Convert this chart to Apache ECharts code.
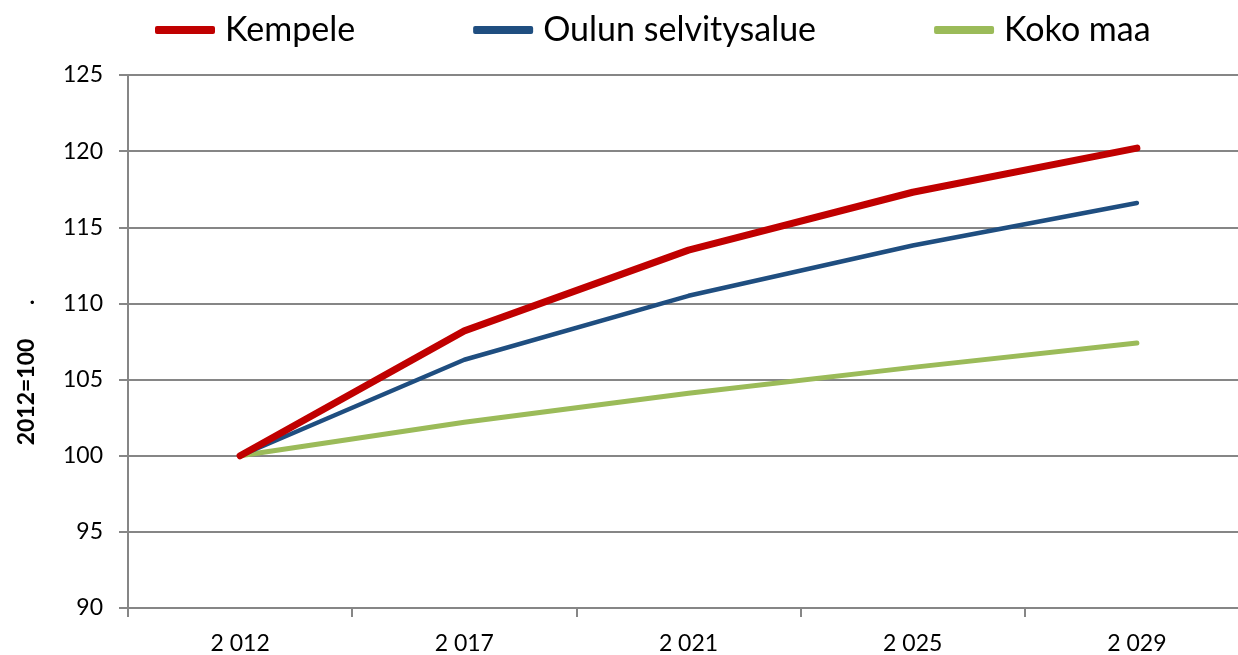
<!DOCTYPE html>
<html>
<head>
<meta charset="utf-8">
<script src="https://cdn.jsdelivr.net/npm/echarts@6/dist/echarts.min.js"></script>
<style>
  html, body { margin: 0; padding: 0; background: #fff; overflow: hidden; }
  #echarts { width: 1250px; height: 655px; }
</style>
</head>
<body>
<div id="echarts"></div>
<script>
var years = ['2 012', '2 017', '2 021', '2 025', '2 029'];
var kempele = [100, 108.2, 113.5, 117.3, 120.2];
var oulu = [100, 106.3, 110.5, 113.8, 116.6];
var kokoMaa = [100, 102.2, 104.1, 105.8, 107.4];

var fontName = 'Lato, "Open Sans", sans-serif';
var gridColor = '#868686';

var option = {
    animation: false,
    textStyle: { fontFamily: fontName },
    legend: {
        left: 150,
        top: 8,
        itemGap: 118,
        itemWidth: 60,
        itemHeight: 8,
        icon: 'roundRect',
        textStyle: { fontSize: 34, color: '#000', fontFamily: fontName, padding: [0, 0, 0, 5] },
        data: ['Kempele', 'Oulun selvitysalue', 'Koko maa']
    },
    grid: {
        left: 128,
        right: 1,
        top: 75,
        bottom: 47
    },
    xAxis: {
        type: 'category',
        data: years,
        boundaryGap: true,
        axisLine: { lineStyle: { color: gridColor, width: 2 } },
        axisTick: { show: true, length: 9, lineStyle: { color: gridColor, width: 2 } },
        axisLabel: { fontSize: 23, color: '#000', margin: 24 }
    },
    yAxis: {
        type: 'value',
        min: 90,
        max: 125,
        interval: 5,
        name: '2012=100      .',
        nameLocation: 'middle',
        nameGap: 90,
        nameRotate: 90,
        nameTextStyle: { fontSize: 23, fontWeight: 'bold', color: '#000', padding: [0, 62, 0, 0] },
        axisLine: { show: true, lineStyle: { color: gridColor, width: 2 } },
        axisTick: { show: true, length: 9, lineStyle: { color: gridColor, width: 2 } },
        axisLabel: { fontSize: 23, color: '#000', margin: 25 },
        splitLine: { lineStyle: { color: gridColor, width: 2 } }
    },
    series: [
        {
            name: 'Kempele',
            type: 'line',
            data: kempele,
            showSymbol: false,
            color: '#C00000',
            lineStyle: { width: 7, cap: 'round', join: 'round' },
            z: 4
        },
        {
            name: 'Oulun selvitysalue',
            type: 'line',
            data: oulu,
            showSymbol: false,
            color: '#1F4E80',
            lineStyle: { width: 4.5, cap: 'round', join: 'round' },
            z: 3
        },
        {
            name: 'Koko maa',
            type: 'line',
            data: kokoMaa,
            showSymbol: false,
            color: '#9BBB59',
            lineStyle: { width: 5, cap: 'round', join: 'round' },
            z: 2
        }
    ]
};

var myChart = echarts.init(document.getElementById('echarts'));
myChart.setOption(option);
</script>
</body>
</html>
